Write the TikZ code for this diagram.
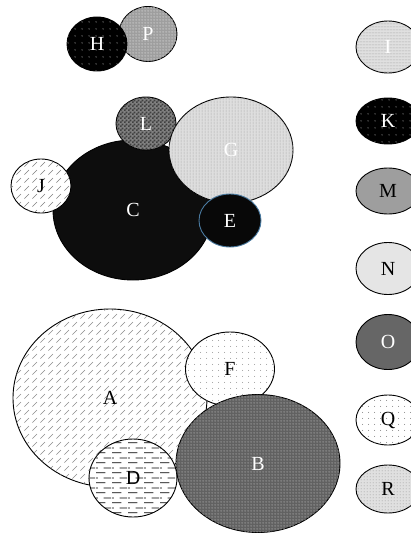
\documentclass[tikz,border=0pt]{standalone}
\usepackage{fontspec}
\setmainfont{Liberation Serif}
\usetikzlibrary{shapes.geometric,patterns.meta}
\tikzdeclarepattern{name=sparsedots, type=uncolored,
  bounding box={(0pt,0pt) and (6pt,6pt)}, tile size={(6pt,6pt)},
  code={\fill (3pt,3pt) circle (0.55pt);}}
\tikzdeclarepattern{name=meddots, type=uncolored,
  bounding box={(0pt,0pt) and (6.5pt,6.5pt)}, tile size={(6.5pt,6.5pt)},
  code={\fill (3.25pt,3.25pt) circle (0.6pt);}}
\tikzdeclarepattern{name=densedots, type=uncolored,
  bounding box={(0pt,0pt) and (3pt,3pt)}, tile size={(3pt,3pt)},
  code={\fill (1.5pt,1.5pt) circle (0.6pt);}}
\tikzdeclarepattern{name=diagdash, type=uncolored,
  bounding box={(0pt,0pt) and (8pt,8pt)}, tile size={(8pt,8pt)},
  code={\draw[line width=0.7pt] (0.5pt,0.5pt) -- (5.5pt,5.5pt);}}
\tikzdeclarepattern{name=hordash, type=uncolored,
  bounding box={(0pt,0pt) and (16pt,10pt)}, tile size={(16pt,10pt)},
  code={\draw[line width=0.8pt] (0pt,2.5pt) -- (10pt,2.5pt)
     (8pt,7.5pt) -- (16pt,7.5pt) (0pt,7.5pt) -- (2pt,7.5pt);}}
\tikzdeclarepattern{name=vlines, type=uncolored,
  bounding box={(0pt,0pt) and (3pt,3pt)}, tile size={(3pt,3pt)},
  code={\draw[line width=0.9pt] (1.5pt,0pt) -- (1.5pt,3pt);}}
\tikzdeclarepattern{name=hlines, type=uncolored,
  bounding box={(0pt,0pt) and (3pt,3pt)}, tile size={(3pt,3pt)},
  code={\draw[line width=0.9pt] (0pt,1.5pt) -- (3pt,1.5pt);}}
\tikzdeclarepattern{name=finegrid, type=uncolored,
  bounding box={(0pt,0pt) and (2.5pt,2.5pt)}, tile size={(2.5pt,2.5pt)},
  code={\draw[line width=0.7pt] (1.25pt,0pt) -- (1.25pt,2.5pt) (0pt,1.25pt) -- (2.5pt,1.25pt);}}
\tikzdeclarepattern{name=checker, type=uncolored,
  bounding box={(0pt,0pt) and (4pt,4pt)}, tile size={(4pt,4pt)},
  code={\fill (0pt,0pt) rectangle (2pt,2pt) (2pt,2pt) rectangle (4pt,4pt);}}
\definecolor{eblue}{HTML}{4A7AA0}
\tikzset{
  ell/.style 2 args={ellipse, draw=black, line width=0.9pt, inner sep=0pt,
    minimum width=#1pt, minimum height=#2pt,
    font=\fontsize{20}{24}\selectfont},
  pat/.style 2 args={postaction={pattern={#1}, pattern color=#2}},
  wtext/.style={text=white},
}
\begin{document}
\begin{tikzpicture}[x=1pt,y=-1pt]
\useasboundingbox (0,0) rectangle (410,535);
% top pair
\node[ell={58}{55}, fill=black!38, pat={finegrid}{black!25}, wtext] (P) at (148,34) {P};
\node[ell={60}{54}, fill=black, pat={meddots}{white!75!black}, wtext] (H) at (97,44) {H};
% middle cluster
\node[ell={160}{140}, fill=black!95, wtext] (C) at (133,210) {C};
\node[ell={60}{53}, fill=black!50, pat={checker}{black!75}, wtext] (L) at (146,123.5) {L};
\node[ell={124}{106}, fill=black!13, pat={vlines}{black!30}, wtext] (G) at (231,150) {G};
\node[ell={60}{54}, fill=white, pat={diagdash}{black!50}] (J) at (41,186) {J};
\node[ell={62}{53}, draw=eblue, fill=black!97, wtext] (E) at (230,220.5) {E};
% bottom cluster
\node[ell={194}{178}, fill=white, pat={diagdash}{black!45}] (A) at (110,398) {A};
\node[ell={89}{74}, fill=white, pat={sparsedots}{black!45}] (F) at (230,369) {F};
\node[ell={88}{78}, fill=white, pat={hordash}{black}] (D) at (133,478) {D};
\node[ell={164}{138}, fill=black!62, pat={finegrid}{black!45}, wtext] (B) at (258,463.5) {B};
% right column
\node[ell={64}{52}, fill=black!12, pat={hlines}{black!32}, wtext] (I) at (388,47) {I};
\node[ell={64}{46}, fill=black, pat={meddots}{white!75!black}, wtext] (K) at (388,121) {K};
\node[ell={64}{46}, fill=black!38] (M) at (388,191) {M};
\node[ell={64}{52}, fill=black!10] (N) at (388,268.5) {N};
\node[ell={64}{55}, fill=black!60, wtext] (O) at (388,342) {O};
\node[ell={64}{50}, fill=white, pat={sparsedots}{black!55}] (Q) at (388,420) {Q};
\node[ell={64}{48}, fill=black!12, pat={densedots}{black!45}] (R) at (388,489) {R};
\end{tikzpicture}
\end{document}
